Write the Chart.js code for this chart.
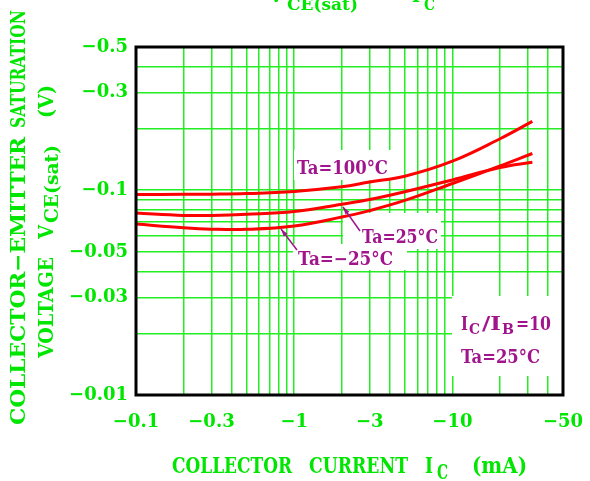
<!DOCTYPE html>
<html>
<head>
<meta charset="utf-8">
<script src="https://cdn.jsdelivr.net/npm/chart.js@4.4.1/dist/chart.umd.min.js"></script>
<style>
  html, body { margin: 0; padding: 0; background: #fff; }
  canvas { display: block; }
</style>
</head>
<body>
<canvas id="chart" width="590" height="481" style="width:590px;height:481px"></canvas>
<script>
// collector current |Ic| in mA (axis shows them negative)
var currentMA = [0.1, 0.2, 0.3, 0.5, 1, 2, 3, 5, 10, 20, 32];
// |Vce(sat)| in V for each temperature
var vce100 = [0.0952, 0.0955, 0.0956, 0.0962, 0.0986, 0.1038, 0.1096, 0.1170, 0.1386, 0.1783, 0.2167];
var vce25 = [0.0773, 0.0753, 0.0753, 0.0762, 0.0786, 0.0854, 0.0900, 0.0982, 0.1122, 0.1290, 0.1370];
var vceM25 = [0.0683, 0.0655, 0.0645, 0.0644, 0.0669, 0.0739, 0.0795, 0.0891, 0.1078, 0.1313, 0.1510];

var xGridTicks = [0.1, 0.2, 0.3, 0.4, 0.5, 0.6, 0.7, 0.8, 0.9, 1, 2, 3, 4, 5, 6, 7, 8, 9, 10, 20, 30, 40, 50];
var xTickLabels = [0.1, 0.3, 1, 3, 10, 50];
var yGridTicks = [0.01, 0.02, 0.03, 0.04, 0.05, 0.06, 0.07, 0.08, 0.09, 0.1, 0.2, 0.3, 0.4, 0.5];
var yTickLabels = [0.01, 0.03, 0.05, 0.1, 0.3, 0.5];

var GREEN = '#00e600';
var GRID = '#22ee22';
var PURPLE = '#a0148c';
var FONT = '"DejaVu Serif", "Liberation Serif", serif';

function pts(ys) {
  return currentMA.map(function (x, i) { return { x: x, y: ys[i] }; });
}

// draw text squeezed/stretched to a given width; rot = runs upward
function fitText(ctx, str, x, y, w, size, color, rot) {
  ctx.save();
  ctx.font = 'bold ' + size + 'px ' + FONT;
  ctx.fillStyle = color;
  ctx.textAlign = 'left';
  ctx.textBaseline = 'alphabetic';
  var nat = ctx.measureText(str).width;
  ctx.translate(x, y);
  if (rot) ctx.rotate(-Math.PI / 2);
  ctx.scale(w / nat, 1);
  ctx.fillText(str, 0, 0);
  ctx.restore();
}

function arrow(ctx, x1, y1, x2, y2) {
  ctx.save();
  ctx.strokeStyle = PURPLE;
  ctx.fillStyle = PURPLE;
  ctx.lineWidth = 1.5;
  ctx.beginPath();
  ctx.moveTo(x1, y1);
  ctx.lineTo(x2, y2);
  ctx.stroke();
  var a = Math.atan2(y2 - y1, x2 - x1);
  ctx.beginPath();
  ctx.moveTo(x2, y2);
  ctx.lineTo(x2 - 8 * Math.cos(a - 0.3), y2 - 8 * Math.sin(a - 0.3));
  ctx.lineTo(x2 - 8 * Math.cos(a + 0.3), y2 - 8 * Math.sin(a + 0.3));
  ctx.closePath();
  ctx.fill();
  ctx.restore();
}

var decor = {
  id: 'decor',
  beforeDatasetsDraw: function (chart) {
    // white patches behind the labels (grid is broken there)
    var ctx = chart.ctx;
    ctx.save();
    ctx.fillStyle = '#fff';
    ctx.fillRect(294, 150, 108, 30);
    ctx.fillRect(343, 213, 98, 36);
    ctx.fillRect(293, 244, 114, 26);
    ctx.fillRect(452, 296, 110, 80);
    ctx.restore();
  },
  afterDatasetsDraw: function (chart) {
    var ctx = chart.ctx;
    var a = chart.chartArea;
    ctx.save();
    ctx.strokeStyle = '#000';
    ctx.lineWidth = 3;
    ctx.strokeRect(a.left, a.top, a.right - a.left, a.bottom - a.top);
    ctx.restore();

    // curve labels
    fitText(ctx, 'Ta=100°C', 297, 174, 91, 18, PURPLE);
    fitText(ctx, 'Ta=25°C', 362, 243, 76, 18, PURPLE);
    fitText(ctx, 'Ta=−25°C', 298, 265, 95, 18, PURPLE);
    arrow(ctx, 360, 231, 343, 207);
    arrow(ctx, 297, 250, 281, 229);

    // condition box
    fitText(ctx, 'I', 461, 330, 7, 18, PURPLE);
    fitText(ctx, 'C', 469, 334, 11, 15, PURPLE);
    fitText(ctx, '/I', 482, 330, 19, 18, PURPLE);
    fitText(ctx, 'B', 502, 334, 12, 15, PURPLE);
    fitText(ctx, '=10', 516, 330, 35, 18, PURPLE);
    fitText(ctx, 'Ta=25°C', 461, 363, 79, 18, PURPLE);

    // title (cut at the top edge)
    fitText(ctx, 'V', 268, 2, 16, 23, GREEN);
    fitText(ctx, 'CE(sat)', 287, 10, 71, 17, GREEN);
    fitText(ctx, 'I', 412, 2, 8, 23, GREEN);
    fitText(ctx, 'C', 424, 10, 11, 17, GREEN);

    // x axis title
    fitText(ctx, 'COLLECTOR', 172, 473, 120, 23, GREEN);
    fitText(ctx, 'CURRENT', 309, 473, 99, 23, GREEN);
    fitText(ctx, 'I', 425, 473, 8, 23, GREEN);
    fitText(ctx, 'C', 437, 479, 11, 20, GREEN);
    fitText(ctx, '(mA)', 472, 473, 55, 23, GREEN);

    // y axis title
    fitText(ctx, 'COLLECTOR−EMITTER', 25, 425, 288, 21, GREEN, true);
    fitText(ctx, 'SATURATION', 25, 128, 118, 21, GREEN, true);
    fitText(ctx, 'VOLTAGE', 53, 358, 101, 21, GREEN, true);
    fitText(ctx, 'V', 53, 239, 14, 21, GREEN, true);
    fitText(ctx, 'CE(sat)', 58, 223, 78, 19, GREEN, true);
    fitText(ctx, '(V)', 53, 118, 33, 21, GREEN, true);
  }
};

function curve(data) {
  return {
    data: data,
    borderColor: '#ff0000',
    borderWidth: 3,
    pointRadius: 0,
    showLine: true,
    tension: 0.4,
    fill: false
  };
}

var tickFont = { family: FONT, size: 18, weight: 'bold' };

new Chart(document.getElementById('chart'), {
  type: 'scatter',
  data: {
    datasets: [curve(pts(vce100)), curve(pts(vce25)), curve(pts(vceM25))]
  },
  options: {
    responsive: false,
    animation: false,
    devicePixelRatio: 1,
    layout: { autoPadding: false, padding: { left: 0, top: 47, right: 27, bottom: 0 } },
    plugins: { legend: { display: false }, tooltip: { enabled: false } },
    scales: {
      x: {
        type: 'logarithmic',
        min: 0.1,
        max: 50,
        afterBuildTicks: function (s) { s.ticks = xGridTicks.map(function (v) { return { value: v }; }); },
        afterFit: function (s) { s.height = 86; s.paddingLeft = 0; s.paddingRight = 0; },
        grid: { color: GRID, lineWidth: 1.5, drawTicks: false },
        border: { display: false },
        ticks: {
          autoSkip: false,
          maxRotation: 0,
          padding: 17,
          color: GREEN,
          font: tickFont,
          callback: function (v) { return xTickLabels.indexOf(v) >= 0 ? '−' + v : ''; }
        }
      },
      y: {
        type: 'logarithmic',
        min: 0.01,
        max: 0.5,
        afterBuildTicks: function (s) { s.ticks = yGridTicks.map(function (v) { return { value: v }; }); },
        afterFit: function (s) { s.width = 136; s.paddingTop = 0; s.paddingBottom = 0; },
        grid: { color: GRID, lineWidth: 1.5, drawTicks: false },
        border: { display: false },
        ticks: {
          autoSkip: false,
          padding: 8,
          color: GREEN,
          font: tickFont,
          callback: function (v) { return yTickLabels.indexOf(v) >= 0 ? '−' + v : ''; }
        }
      }
    }
  },
  plugins: [decor]
});
</script>
</body>
</html>
